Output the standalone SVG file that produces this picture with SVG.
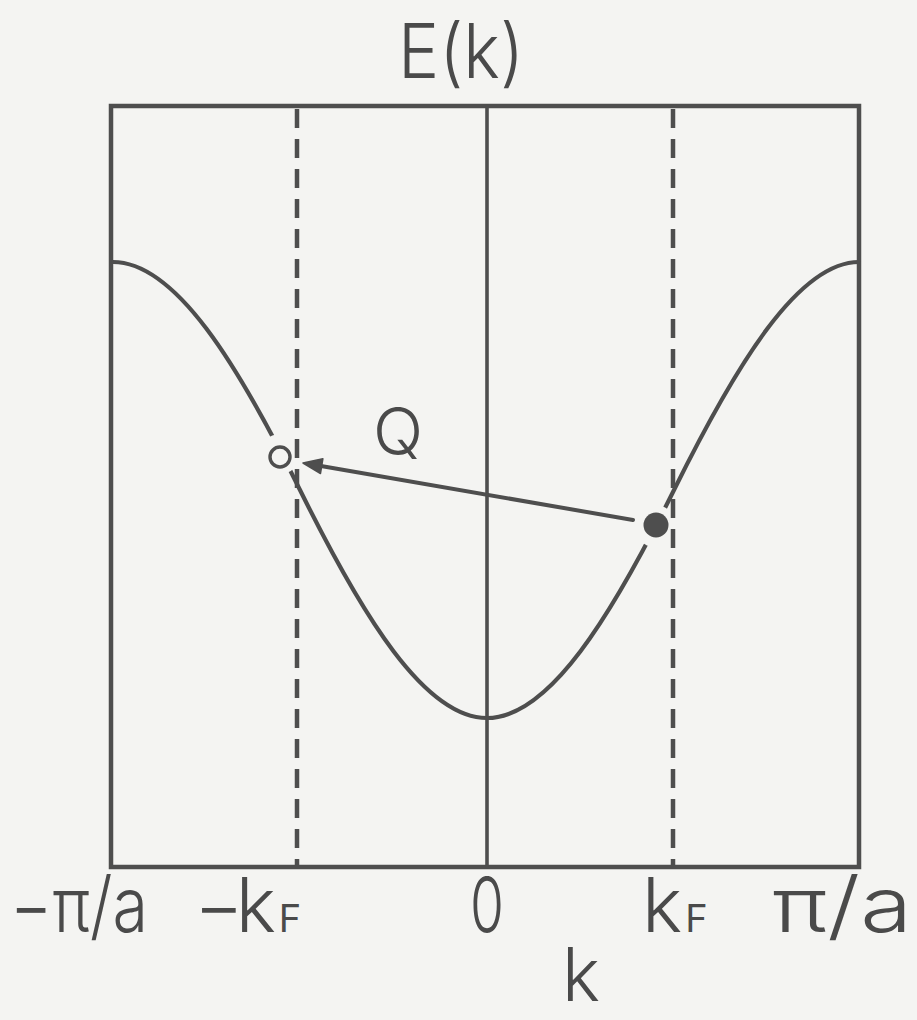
<svg xmlns="http://www.w3.org/2000/svg" width="917" height="1020" viewBox="0 0 917 1020">
<style>
.ln{stroke:#4e4e4e;fill:none;stroke-linecap:round}
.dash{stroke:#4e4e4e;fill:none;stroke-width:4.5;stroke-dasharray:19 11}
.t{font-family:Inter,"Liberation Sans",sans-serif;font-weight:300;fill:#4a4a4a}
.sub{font-weight:400;font-size:38px}
</style>
<defs>
<mask id="gaps" maskUnits="userSpaceOnUse" x="0" y="0" width="917" height="1020">
<rect x="0" y="0" width="917" height="1020" fill="#fff"/>
<circle cx="280" cy="454" r="20" fill="#000"/>
<circle cx="655" cy="526" r="21" fill="#000"/>
</mask>
</defs>
<rect x="0" y="0" width="917" height="1020" fill="#f4f4f2"/>
<g id="frame">
<rect x="111" y="106" width="748" height="761" class="ln" stroke-width="4.5" style="stroke-linecap:butt"/>
<line x1="487" y1="106" x2="487" y2="867" class="ln" stroke-width="3.6"/>
<line x1="297" y1="109" x2="297" y2="865" class="dash"/>
<line x1="673" y1="109" x2="673" y2="865" class="dash"/>
</g>
<g id="curve">
<path d="M113,262 C175.33,262 237.67,364.08 300,490 C362.33,615.92 424.67,718 487,718 C549.33,718 611.67,615.92 674,490 C736.33,364.08 798.67,262 859,262" class="ln" stroke-width="4.2" mask="url(#gaps)"/>
</g>
<g id="hole">
<circle cx="280" cy="457" r="10" fill="#f4f4f2" stroke="#4e4e4e" stroke-width="3.4"/>
</g>
<g id="electron">
<circle cx="656" cy="525" r="12.5" fill="#4e4e4e"/>
</g>
<g id="connectors">
<line x1="633" y1="520" x2="321" y2="466" class="ln" stroke-width="4"/>
<polygon points="303,463 322.9,458.7 320.5,473.5" fill="#4e4e4e" stroke="#4e4e4e" stroke-width="1.5" stroke-linejoin="round"/>
</g>
<g id="labels">
<text class="t" x="461" y="78" font-size="75" text-anchor="middle" textLength="126" lengthAdjust="spacingAndGlyphs">E(k)</text>
<text class="t" x="398" y="455" font-size="66" text-anchor="middle">Q</text>
<text class="t" x="10" y="932" font-size="76" textLength="138" lengthAdjust="spacingAndGlyphs">−π/a</text>
<text class="t" x="194" y="932" font-size="76" letter-spacing="-8">−k<tspan class="sub" letter-spacing="0" dx="11">F</tspan></text>
<text class="t" x="487" y="932" font-size="76" text-anchor="middle" textLength="34" lengthAdjust="spacingAndGlyphs">0</text>
<text class="t" x="642" y="932" font-size="76">k<tspan class="sub" dx="3">F</tspan></text>
<text class="t" x="772" y="932" font-size="76" textLength="140" lengthAdjust="spacingAndGlyphs">π/a</text>
<text class="t" x="581" y="1001" font-size="74" text-anchor="middle" textLength="38" lengthAdjust="spacingAndGlyphs">k</text>
</g>
</svg>
